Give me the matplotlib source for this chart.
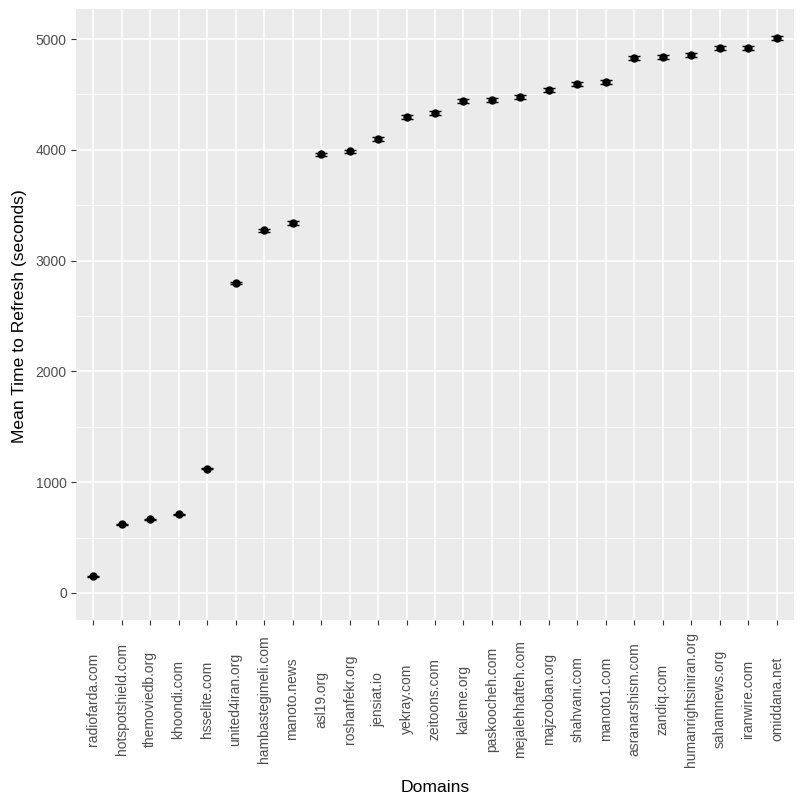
import numpy as np
import matplotlib
matplotlib.use('Agg')
import matplotlib.pyplot as plt
from matplotlib.ticker import MultipleLocator

domains = ['radiofarda.com', 'hotspotshield.com', 'themoviedb.org', 'khoondi.com',
           'hsselite.com', 'united4iran.org', 'hambastegimeli.com', 'manoto.news',
           'asl19.org', 'roshanfekr.org', 'jensiat.io', 'yekray.com', 'zeitoons.com',
           'kaleme.org', 'paskoocheh.com', 'mejalehhafteh.com', 'majzooban.org',
           'shahvani.com', 'manoto1.com', 'asranarshism.com', 'zandiq.com',
           'humanrightsiniran.org', 'sahamnews.org', 'iranwire.com', 'omiddana.net']
mean_refresh = [150, 620, 665, 710, 1122, 2795, 3273, 3337, 3959, 3986, 4095, 4293,
                4329, 4438, 4447, 4474, 4537, 4591, 4615, 4832, 4841, 4853, 4916,
                4916, 5006]
err = [5, 6, 6, 6, 6, 10, 16, 16, 16, 16, 18, 18, 18,
       18, 18, 18, 18, 18, 18, 18, 18, 18, 18, 18, 18]

plt.rcParams['font.family'] = ['Liberation Sans', 'DejaVu Sans']

fig = plt.figure(figsize=(8.03, 8.02), dpi=100)
ax = fig.add_axes([76 / 803, (802 - 620) / 802, (794 - 76) / 803, (620 - 9) / 802])
ax.set_facecolor('#EBEBEB')

x = np.arange(len(domains))
ax.errorbar(x, mean_refresh, yerr=err, fmt='o', color='black', markersize=5,
            elinewidth=1, capsize=4.3, capthick=1, zorder=3)

ax.set_xlim(-0.6, len(domains) - 0.4)
ax.set_ylim(-244, 5271)

ax.set_xticks(x)
ax.set_xticklabels(domains, rotation=90, va='center', ha='center')
ax.yaxis.set_major_locator(MultipleLocator(1000))
ax.yaxis.set_minor_locator(MultipleLocator(500))

ax.grid(which='major', color='white', linewidth=1.1)
ax.grid(which='minor', axis='y', color='white', linewidth=0.55)
ax.set_axisbelow(True)
for s in ax.spines.values():
    s.set_visible(False)

ax.tick_params(axis='both', which='major', length=3.6, width=0.8, color='#333333',
               labelcolor='#4D4D4D', labelsize=10)
ax.tick_params(axis='y', which='major', pad=3)
ax.tick_params(axis='x', which='major', pad=53.4)
ax.tick_params(axis='y', which='minor', length=0)

ax.set_xlabel('Domains', fontsize=12.6, color='black', va='center')
ax.xaxis.set_label_coords(0.5, (620 - 787) / 611)
ax.set_ylabel('Mean Time to Refresh (seconds)', fontsize=12.6, color='black', va='center')
ax.yaxis.set_label_coords((20 - 76) / 718, 0.497)

fig.savefig('out.png', dpi=100)
